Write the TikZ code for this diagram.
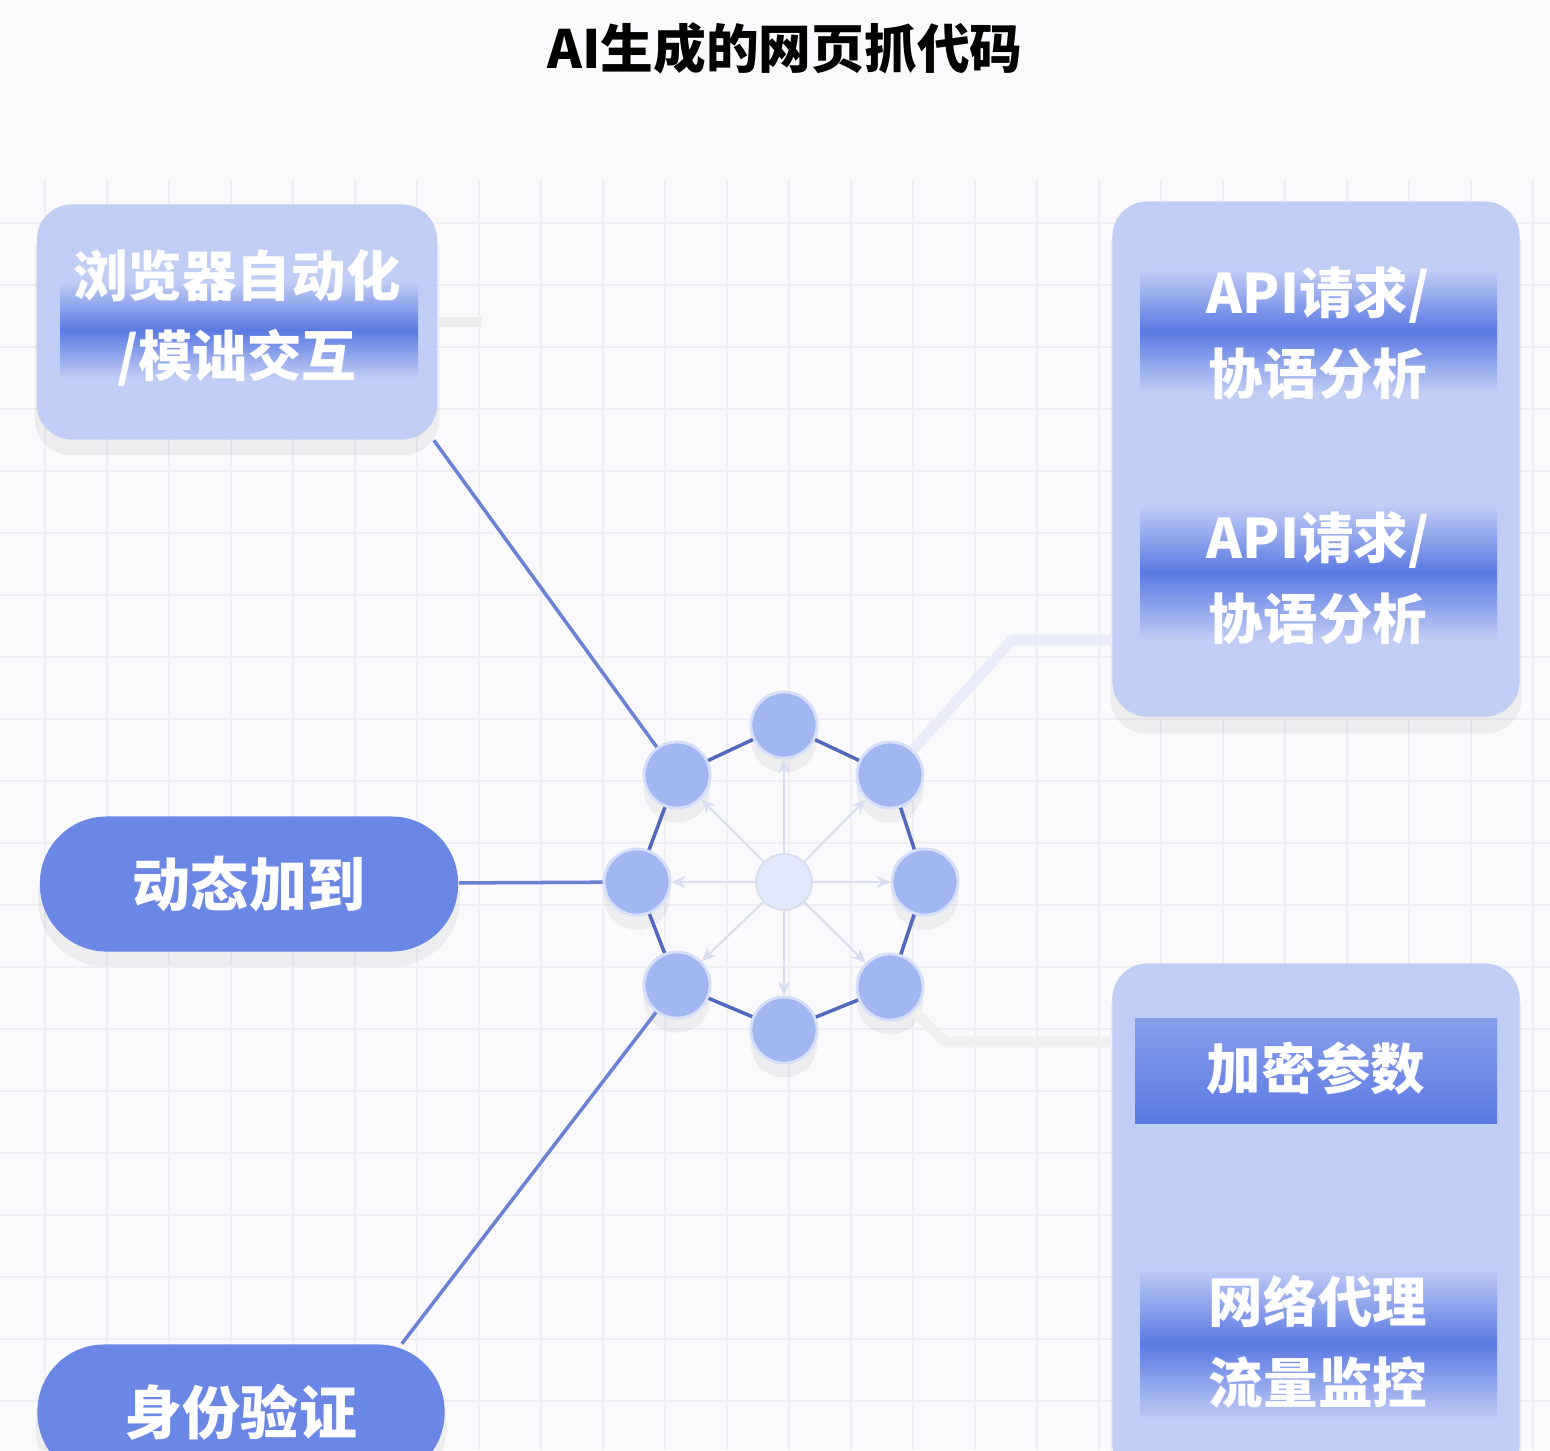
\documentclass[tikz,border=0pt]{standalone}
\usepackage{fontspec}
\newfontfamily\cjk{Noto Sans CJK SC}
\usetikzlibrary{positioning,arrows.meta,calc,shadows}
\definecolor{paper}{HTML}{FAFAFC}
\definecolor{gridgray}{HTML}{F0F0F4}
\definecolor{panelblue}{HTML}{C0CDF5}
\definecolor{pillblue}{HTML}{6B87E6}
\definecolor{bandblue}{HTML}{5B79E3}
\definecolor{dotblue}{HTML}{A2B7F1}
\definecolor{hubblue}{HTML}{E1E8F9}
\definecolor{ringblue}{HTML}{5169BD}
\definecolor{linkblue}{HTML}{6A82D6}
\definecolor{spokegray}{HTML}{D8DEF0}
\tikzset{
  softshadow/.style={general shadow={fill=black, opacity=0.05,
    shadow xshift=0pt, shadow yshift=-4pt, shadow scale=1.01}},
  heading/.style={font=\cjk\bfseries\fontsize{15}{18}\selectfont, text=black},
  panel/.style={fill=panelblue, rounded corners=10pt, inner sep=0pt, softshadow},
  pill/.style={fill=pillblue, rounded corners=19pt, inner sep=0pt,
    minimum height=1.35cm, text=white, softshadow,
    font=\cjk\bfseries\fontsize{16.5}{20}\selectfont},
  tag/.style={text=white, align=center, inner sep=0pt,
    font=\cjk\bfseries\fontsize{15.5}{23}\selectfont},
  band/.style={top color=panelblue, bottom color=panelblue, middle color=bandblue},
  dot/.style={circle, fill=dotblue, draw=white!55!dotblue, line width=0.8pt,
    minimum size=0.66cm, inner sep=0pt, softshadow},
  hub/.style={circle, fill=hubblue, draw=spokegray, line width=0.5pt,
    minimum size=0.56cm, inner sep=0pt},
  ring/.style={draw=ringblue, line width=1pt},
  spoke/.style={draw=spokegray, line width=0.6pt, -{Stealth[length=1.4mm, width=1.2mm]}},
  link/.style={draw=linkblue, line width=1pt},
  faint/.style={draw=linkblue!14, line width=3pt, line join=round},
}

\begin{document}
\begin{tikzpicture}[x=0.01cm, y=-0.01cm]
\clip (0,0) rectangle (1550,1450);
\fill[paper] (0,0) rectangle (1550,1450);
% background grid
\foreach \gx in {45,107,...,1550}
  \draw[gridgray, line width=0.8pt] (\gx,180) -- (\gx,1450);
\foreach \gy in {223,285,...,1450}
  \draw[gridgray, line width=0.8pt] (0,\gy) -- (1550,\gy);

\node[heading] (title) at (785,48) {AI生成的网页抓代码};

% left column
\node[panel, minimum width=4cm, minimum height=2.35cm] (browser) at (237,322) {};
\shade[band] (60,282) rectangle (418,378);
\node[tag] (browsertxt) at (237,318) {浏览器自动化\\/模诎交互};
\node[pill, minimum width=4.18cm] (dyn) at (249,884) {动态加到};
\node[pill, minimum width=4.07cm] (auth) at (241,1412) {身份验证};

% right column
\node[panel, minimum width=4.07cm, minimum height=5.15cm] (apibox) at (1316,459) {};
\shade[band] (1140,270) rectangle (1497,392);
\shade[band] (1140,505) rectangle (1497,640);
\node[tag] (api1) at (1318,333) {API请求/\\协语分析};
\node[tag] (api2) at (1318,578) {API请求/\\协语分析};
\node[panel, minimum width=4.07cm, minimum height=5.15cm] (cryptbox) at (1316,1221) {};
\shade[top color=bandblue!55!panelblue, bottom color=bandblue] (1135,1018) rectangle (1497,1123);
\shade[band] (1140,1268) rectangle (1497,1420);
\node[tag] (crypt) at (1316,1068) {加密参数};
\node[tag] (proxy) at (1318,1342) {网络代理\\流量监控};

% hub and ring
\node[hub] (hub) at (784,882) {};
\foreach \n/\px/\py in {1/784/725, 2/890/775, 3/925/882, 4/890/987,
                        5/784/1030, 6/677/985, 7/637/882, 8/677/775}
  \node[dot] (n\n) at (\px,\py) {};
\foreach \n in {1,...,8}
  \draw[spoke] (hub) -- (n\n);
\foreach \n [evaluate=\n as \m using {int(mod(\n,8)+1)}] in {1,...,8}
  \draw[ring] (n\n) -- (n\m);

% links
\draw[link] (browser.-31) -- (n8);
\draw[link] (dyn) -- (n7);
\draw[link] (auth.23) -- (n6);
% faint leads
\coordinate (k1) at (1012,640);
\coordinate (k2) at (945,1042);
\coordinate (k3) at (482,322);
\draw[faint] (n2) -- (k1) -- (k1 -| apibox.west);
\draw[faint, draw=black!6] (n4) -- (k2) -- (k2 -| cryptbox.west);
\draw[faint, draw=black!7] (browser.east) -- (k3);
\end{tikzpicture}
\end{document}
